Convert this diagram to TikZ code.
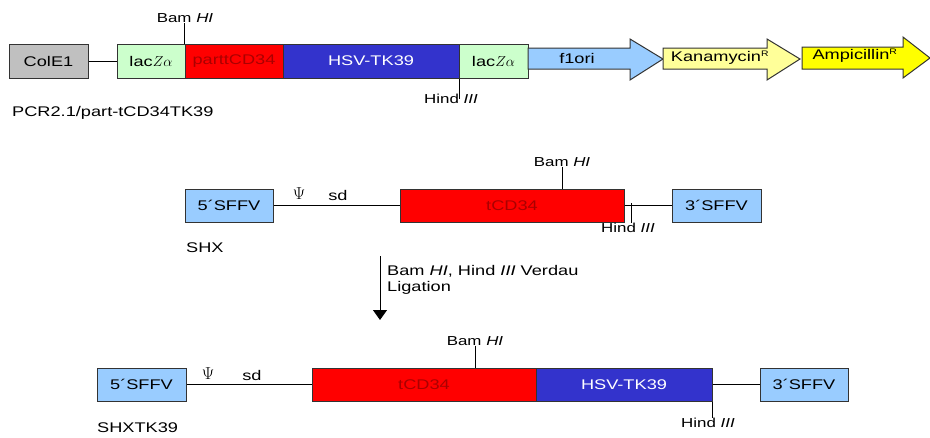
\documentclass[tikz,border=0pt]{standalone}
\usepackage{fontspec}
\setmainfont{Liberation Sans}[FakeStretch=1.3]
\usetikzlibrary{arrows.meta}
\definecolor{colgray}{RGB}{192,192,192}
\definecolor{lacgreen}{RGB}{204,255,204}
\definecolor{cdred}{RGB}{255,0,0}
\definecolor{cdtext}{RGB}{170,0,0}
\definecolor{tkblue}{RGB}{51,51,204}
\definecolor{sffvblue}{RGB}{153,204,255}
\definecolor{kanyellow}{RGB}{255,255,153}
\definecolor{ampyellow}{RGB}{255,255,0}
\newcommand{\resist}{\textsuperscript{\fontsize{8}{9}\selectfont R}}

\begin{document}
\begin{tikzpicture}[x=1pt, y=-1pt,
  box/.style={draw=black!80, line width=1pt, minimum height=33pt, inner sep=0pt, font=\fontsize{14}{17}\selectfont},
  gene/.style={draw=black!80, line width=1pt},
  arr/.style={-{Triangle[length=10pt,width=14pt]}, line width=1pt},
  lbl/.style={font=\fontsize{14}{16}\selectfont, inner sep=0pt},
  psi/.style={font=\fontsize{19}{20}\selectfont, inner sep=0pt},
  site/.style={font=\fontsize{13}{16}\selectfont, inner sep=0pt},
  cut/.style={line width=1pt}
]
  \useasboundingbox (0,0) rectangle (930,437);

  % PCR2.1 vector
  \node[box, fill=colgray, minimum width=79pt, minimum height=34pt] (cole) at (48.5,61) {ColE1};
  \node[box, fill=lacgreen, minimum width=68pt, minimum height=34pt] (lac1) at (151,61) {lac$Z\alpha$};
  \node[box, fill=cdred, text=cdtext, minimum width=98pt, minimum height=34pt] (pcd) at (234,61) {parttCD34};
  \node[box, fill=tkblue, text=white, minimum width=176pt, minimum height=34pt] (tk1) at (371,61) {HSV-TK39};
  \node[box, fill=lacgreen, minimum width=69pt, minimum height=34pt] (lac2) at (493.5,61) {lac$Z\alpha$};

  \draw[gene, fill=sffvblue] (528,48) -- (630,48) -- (630,39) -- (663,59) -- (630,80) -- (630,69) -- (528,69) -- cycle;
  \draw[gene, fill=kanyellow] (663,48) -- (767,48) -- (767,39) -- (800,59) -- (767,80) -- (767,69) -- (663,69) -- cycle;
  \draw[gene, fill=ampyellow] (802,47) -- (903,47) -- (903,37) -- (930,58) -- (903,78) -- (903,69) -- (802,69) -- cycle;
  \node[lbl] (f1) at (577,58) {f1ori};
  \node[lbl] (kan) at (720,58) {Kanamycin\resist};
  \node[lbl] (amp) at (855,56) {Ampicillin\resist};

  \draw[cut] (cole) -- (lac1);

  \node[site] (bam1) at (185,18) {Bam \textit{HI}};
  \draw[cut] (pcd.north west) -- (pcd.north west |- bam1.south);
  \node[site] (hind1) at (451,99) {Hind \textit{III}};
  \draw[cut] (tk1.south east) -- (tk1.south east |- hind1.center);

  \node[lbl, anchor=west] (pcr) at (12,113) {PCR2.1/part-tCD34TK39};

  % SHX
  \node[box, fill=sffvblue, minimum width=88pt] (sffv5a) at (229,205.5) {5´SFFV};
  \node[box, fill=cdred, text=cdtext, minimum width=224pt] (cd2) at (512,205.5) {tCD34};
  \node[box, fill=sffvblue, minimum width=89pt] (sffv3a) at (716.5,205.5) {3´SFFV};
  \draw[cut] (sffv5a) -- (cd2);
  \draw[cut] (cd2) -- (sffv3a);

  \node[psi] (psi2) at (299,194) {$\Psi$};
  \node[lbl] (sd2) at (338,195) {sd};

  \node[site] (bam2) at (562,162) {Bam \textit{HI}};
  \draw[cut] (bam2.south) -- (bam2.south |- cd2.north);
  \coordinate (hc2) at (631,203);
  \node[site] (hind2) at (628,228) {Hind \textit{III}};
  \draw[cut] (hc2) -- (hc2 |- hind2.north);

  \node[lbl, anchor=west] (shx) at (186,248) {SHX};

  % digestion
  \coordinate (digest) at (380,256);
  \coordinate (ligate) at (380,320);
  \draw[arr] (digest) -- (ligate);
  \node[lbl, anchor=west, align=left] (enzymes) at (387,280) {Bam \textit{HI}, Hind \textit{III} Verdau\\Ligation};

  % SHXTK39
  \node[box, fill=sffvblue, minimum width=89pt] (sffv5b) at (141.5,384.5) {5´SFFV};
  \node[box, fill=cdred, text=cdtext, minimum width=224pt] (cd3) at (424,384.5) {tCD34};
  \node[box, fill=tkblue, text=white, minimum width=176pt] (tk3) at (624,384.5) {HSV-TK39};
  \node[box, fill=sffvblue, minimum width=88pt] (sffv3b) at (804,384.5) {3´SFFV};
  \draw[cut] (sffv5b) -- (cd3);
  \draw[cut] (tk3) -- (sffv3b);

  \node[psi] (psi3) at (208,374) {$\Psi$};
  \node[lbl] (sd3) at (252,375) {sd};

  \node[site] (bam3) at (475,341) {Bam \textit{HI}};
  \draw[cut] (bam3.south) -- (bam3.south |- cd3.north);
  \node[site] (hind3) at (708,423) {Hind \textit{III}};
  \draw[cut] (tk3.south east) -- (tk3.south east |- hind3.north);

  \node[lbl, anchor=west] (shxtk) at (97,428) {SHXTK39};
\end{tikzpicture}
\end{document}
